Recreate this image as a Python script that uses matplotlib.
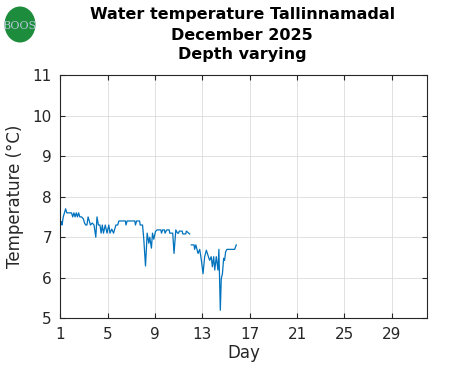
import matplotlib
matplotlib.use('Agg')
import matplotlib.pyplot as plt
from matplotlib.patches import Ellipse
import numpy as np

# data (day of month, water temperature degC)
day = [1.10, 1.15, 1.25, 1.35, 1.45, 1.55, 1.70, 1.95, 2.05, 2.15, 2.25, 2.35,
       2.45, 2.55, 2.65, 2.80, 2.95, 3.05, 3.15, 3.25, 3.35, 3.45, 3.55, 3.70,
       3.85, 4.00, 4.10, 4.22, 4.35, 4.45, 4.55, 4.65, 4.80, 4.95, 5.10, 5.20,
       5.35, 5.50, 5.60, 5.70, 5.85, 5.95, 6.50, 6.55, 6.65, 7.30, 7.35, 7.45,
       7.70, 7.75, 7.95, 8.05, 8.20, 8.34, 8.48, 8.56, 8.70, 8.79, 8.90, 9.04,
       9.18, 9.50, 9.55, 9.65, 9.80, 9.85, 10.00, 10.20, 10.25, 10.50, 10.61,
       10.76, 10.90, 11.00, 11.05, 11.30, 11.35, 11.60, 11.65, 11.93,
       11.99,
       12.07, 12.30, 12.35, 12.45, 12.55, 12.64, 12.78, 12.92, 13.06, 13.20,
       13.34, 13.48, 13.62, 13.75, 13.85, 13.96, 14.05, 14.18, 14.32, 14.40,
       14.52, 14.60, 14.70, 14.80, 14.88, 14.97, 15.08, 15.40, 15.73, 15.87]
temp = [7.38, 7.30, 7.50, 7.60, 7.70, 7.60, 7.60, 7.60, 7.50, 7.60, 7.50, 7.60,
        7.50, 7.60, 7.50, 7.50, 7.45, 7.35, 7.30, 7.30, 7.50, 7.40, 7.30, 7.35,
        7.30, 7.00, 7.50, 7.30, 7.30, 7.10, 7.30, 7.10, 7.30, 7.10, 7.30, 7.10,
        7.20, 7.10, 7.20, 7.30, 7.30, 7.40, 7.40, 7.30, 7.40, 7.40, 7.30, 7.40,
        7.40, 7.30, 7.30, 6.97, 6.29, 7.10, 6.85, 7.00, 6.73, 7.10, 6.95, 7.14,
        7.18, 7.18, 7.10, 7.18, 7.18, 7.10, 7.18, 7.18, 7.10, 7.10, 6.60,
        7.18, 7.10, 7.10, 7.15, 7.15, 7.08, 7.08, 7.15, 7.08,
        np.nan,
        6.81, 6.81, 6.70, 6.81, 6.70, 6.60, 6.70, 6.43, 6.10, 6.52,
        6.68, 6.55, 6.43, 6.52, 6.27, 6.52, 6.19, 6.52, 6.19, 6.70,
        5.20, 5.98, 6.10, 6.48, 6.43, 6.64, 6.70, 6.70, 6.70, 6.81]

xticks = [1, 5, 9, 13, 17, 21, 25, 29]
yticks = [5, 6, 7, 8, 9, 10, 11]
title_lines = ['Water temperature Tallinnamadal', 'December 2025', 'Depth varying']

fig = plt.figure(figsize=(4.71, 3.71), dpi=100)
ax = fig.add_axes([0.128, 0.142, 0.779, 0.656])

ax.plot(day, temp, color='#0072BD', lw=0.9)

ax.set_xlim(1, 32)
ax.set_ylim(5, 11)
ax.set_xticks(xticks)
ax.set_yticks(yticks)
ax.grid(True, color='#dcdcdc', lw=0.6)
ax.set_axisbelow(True)
ax.tick_params(direction='in', length=3.5, width=0.8, top=True, right=True,
               labelsize=11, colors='#262626', pad=6)
for s in ax.spines.values():
    s.set_color('#262626')
    s.set_linewidth(0.8)

ax.set_xlabel('Day', fontsize=12, color='#262626', labelpad=2)
ax.set_ylabel('Temperature (°C)', fontsize=12, color='#262626', labelpad=6)

# three-line bold title
for i, line in enumerate(title_lines):
    fig.text(0.514, 1 - (15 + 20 * i) / 371, line, ha='center', va='center',
             fontsize=11.5, fontweight='bold', color='black')

# BOOS logo stand-in
logo = Ellipse((20 / 471, 1 - 24.5 / 371), 31 / 471, 36 / 371,
               transform=fig.transFigure, facecolor='#1d8c3c', edgecolor='none')
fig.patches.append(logo)
fig.text(20 / 471, 1 - 26 / 371, 'BOOS', ha='center', va='center',
         fontsize=8, family='DejaVu Serif', color='#b8c8dc')

fig.savefig('out.png', dpi=100)
